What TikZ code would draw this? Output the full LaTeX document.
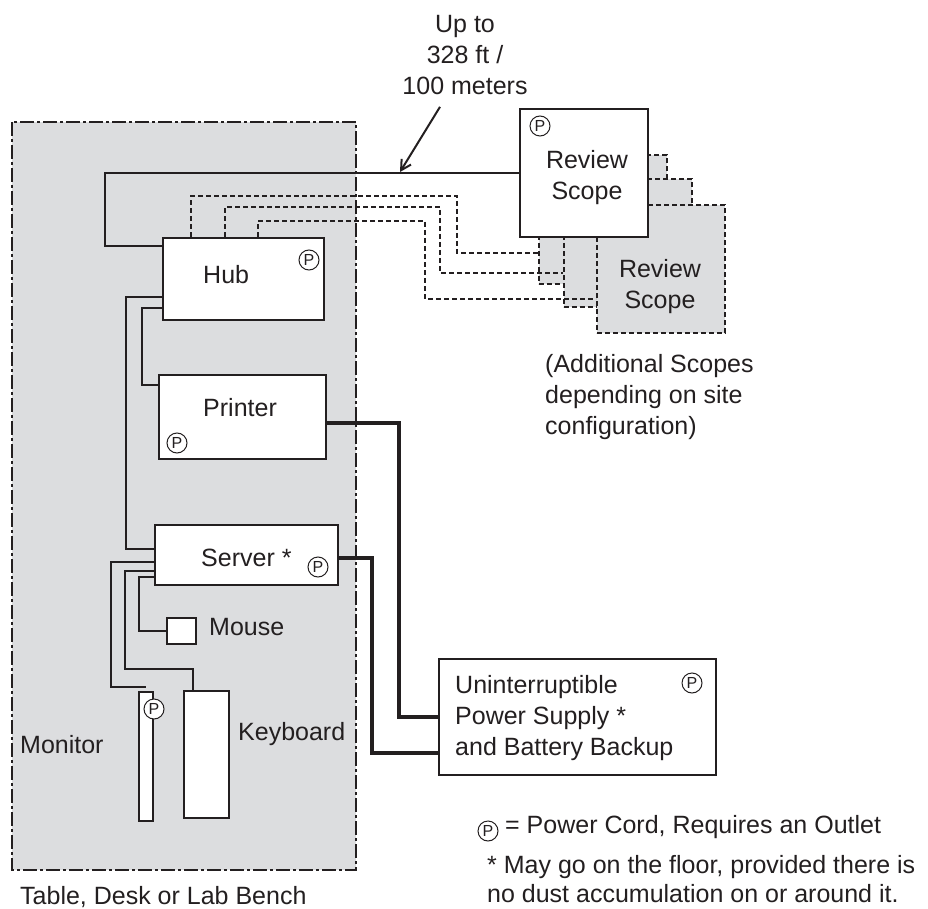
\documentclass[tikz,border=0pt]{standalone}
\usepackage{fontspec}
\setmainfont{Liberation Sans}
\usetikzlibrary{arrows.meta,calc}
\definecolor{ink}{RGB}{35,31,32}
\definecolor{bench}{RGB}{220,221,223}

\begin{document}
\begin{tikzpicture}[x=1pt,y=-1pt,
  every node/.style={font=\fontsize{25}{31}\selectfont,inner sep=0pt,text=ink},
  unit/.style={draw=ink,line width=2pt,fill=white,rectangle},
  ghost/.style={draw=ink,line width=2pt,fill=bench,dash pattern=on 5pt off 3pt,minimum width=128,minimum height=128},
  pmark/.style={draw=ink,circle,line width=1pt,fill=white,minimum size=20pt,font=\fontsize{16}{16}\selectfont},
  wire/.style={draw=ink,line width=2pt},
  power/.style={draw=ink,line width=4pt},
  net/.style={draw=ink,line width=2pt,dash pattern=on 5pt off 3pt}]
  \useasboundingbox (0,0) rectangle (928,909);
  % bench area
  \draw[fill=bench,draw=ink,line width=1.5pt,dash pattern=on 14pt off 3pt on 3pt off 3pt] (12,122) rectangle (356,870);
  % remote scopes, back to front
  \node[ghost] (rs2) at (602.5,219.5) {};
  \node[ghost] (rs3) at (627.5,243) {};
  \node[ghost] (rs4) at (661,269) {};
  \node[unit,minimum width=128,minimum height=128] (rs1) at (584,173) {};
  \node[anchor=north,align=center] (rs1txt) at (587,150) {Review\\Scope};
  \node[anchor=north,align=center] (rs4txt) at (660,259) {Review\\Scope};
  \node[pmark] (rs1p) at (540,126) {P};
  % units on the bench
  \node[unit,minimum width=161,minimum height=82] (hub) at (243.5,279) {};
  \node[unit,minimum width=167,minimum height=84] (printer) at (242.5,417) {};
  \node[unit,minimum width=183,minimum height=60] (server) at (246.5,555) {};
  \node[unit,minimum width=29,minimum height=26] (mouse) at (181.5,631) {};
  \node[unit,minimum width=14,minimum height=129] (monitor) at (146,756.5) {};
  \node[unit,minimum width=45,minimum height=127] (kbd) at (206.5,754.5) {};
  \node[unit,minimum width=277,minimum height=116] (ups) at (577.5,717) {};
  \node[anchor=base west] (hubtxt) at (203,283) {Hub};
  \node[anchor=base west] (printertxt) at (203,416) {Printer};
  \node[anchor=base west] (servertxt) at (201,566) {Server *};
  \node[anchor=base west] (mousetxt) at (209,635) {Mouse};
  \node[anchor=base west] (kbdtxt) at (238,740) {Keyboard};
  \node[anchor=base west] (monitortxt) at (20,753) {Monitor};
  \node[anchor=north west,align=left] (upstxt) at (455,675) {Uninterruptible\\Power Supply *\\and Battery Backup};
  \node[pmark] (hubp) at (309,260) {P};
  \node[pmark] (printerp) at (177,443) {P};
  \node[pmark] (serverp) at (318,567) {P};
  \node[pmark] (monitorp) at (154,709) {P};
  \node[pmark] (upsp) at (692,683) {P};
  % cables
  \draw[wire] (rs1.west) -| (105,246) -- (hub.west |- 0,246);
  \foreach \sx/\ty/\tx/\ey/\tgt in {191/196/457/253/rs2,225/207/440/273/rs3,258/221/425/299/rs4}
    {\draw[net] (hub.north -| \sx,0) |- (\tx,\ty) |- (\tgt.west |- 0,\ey);}
  \draw[wire] (hub.west |- 0,297) -| (126,549) -- (server.west |- 0,549);
  \draw[wire] (hub.west |- 0,308) -| (142,385) -- (printer.west |- 0,385);
  \draw[wire] (server.west |- 0,562) -| (111,687) -- (monitor.north |- 0,687);
  \draw[wire] (server.west |- 0,571) -| (125,669) -| (kbd.north -| 193,0);
  \draw[wire] (server.west |- 0,577) -| (139,631) -- (mouse.west);
  \draw[power] (printer.east |- 0,423) -| (399,717) -- (ups.west);
  \draw[power] (server.east |- 0,558) -| (372,753) -- (ups.west |- 0,753);
  % distance note
  \node[anchor=north,align=center] (upto) at (465,15) {Up to\\328 ft /\\100 meters};
  \coordinate (tip) at (400,172);
  \draw[wire,-{Straight Barb[length=10pt,width=11pt]}] ([xshift=-25pt,yshift=-12pt]upto.south) -- (tip);
  \node[anchor=north west,align=left] (extra) at (545,354) {(Additional Scopes\\depending on site\\configuration)};
  % legend
  \node[anchor=base west] (benchtxt) at (20,904) {Table, Desk or Lab Bench};
  \node[pmark] (keyp) at (488,831) {P};
  \node[anchor=base west] (keytxt) at (505,833) {= Power Cord, Requires an Outlet};
  \node[anchor=base west] (note1) at (487,873) {* May go on the floor, provided there is};
  \node[anchor=base west] (note2) at (487,902) {no dust accumulation on or around it.};
\end{tikzpicture}
\end{document}
